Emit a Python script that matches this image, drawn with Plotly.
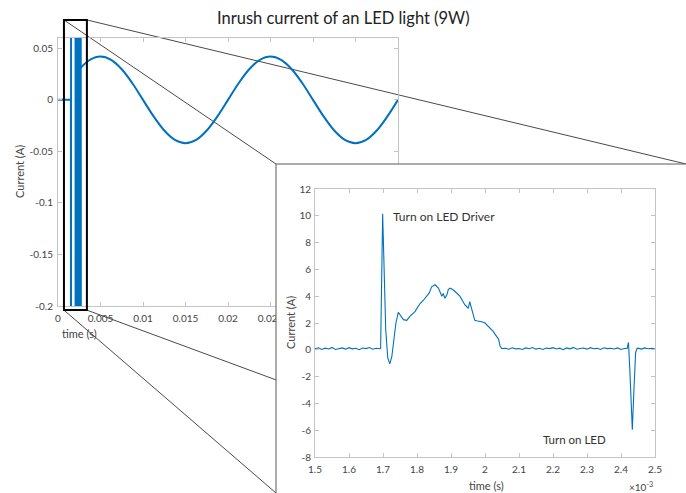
import plotly.graph_objects as go

W, H = 686, 493
FONT = "Lato"
BLUE = "#0072BD"
AXC = "#c4c4c4"
TXT = "#444444"

# ---------------- main plot data ----------------
main_xtick_vals = [0, 0.005, 0.01, 0.015, 0.02, 0.025, 0.03, 0.035, 0.04]
main_xtick_text = ["0", "0.005", "0.01", "0.015", "0.02", "0.025", "0.03", "0.035", "0.04"]
main_ytick_vals = [-0.2, -0.15, -0.1, -0.05, 0, 0.05]
main_ytick_text = ["-0.2", "-0.15", "-0.1", "-0.05", "0", "0.05"]

# switch-on transient (clipped by the axis range)
transient_t = [0, 0.00152, 0.00153, 0.00154, 0.00206, 0.00207, 0.00208,
               0.0022, 0.00225, 0.0023, 0.00235, 0.0024, 0.00245, 0.0025,
               0.00255, 0.0026, 0.00265, 0.0027]
transient_i = [0, 0, -0.5, 0.5, 0.5, -0.5, 0.5,
               -0.5, 0.5, -0.5, 0.5, -0.5, 0.5, -0.5,
               0.5, -0.5, 0.5, -0.5]

# steady-state current (read every 1.25 ms)
steady_t = [round(0.0025 + 0.00125 * k, 6) for k in range(31)]
steady_i = [0.0297, 0.0388, 0.042, 0.0388, 0.0297, 0.0161, 0, -0.0161,
            -0.0297, -0.0388, -0.042, -0.0388, -0.0297, -0.0161, 0,
            0.0161, 0.0297, 0.0388, 0.042, 0.0388, 0.0297, 0.0161, 0,
            -0.0161, -0.0297, -0.0388, -0.042, -0.0388, -0.0297, -0.0161, 0]

# zoom window (data units of main plot)
zoom_t = [0.0007, 0.0034]
zoom_i = [-0.204, 0.0775]

# ---------------- inset data (time in ms) ----------------
inset_xtick_vals = [1.5, 1.6, 1.7, 1.8, 1.9, 2.0, 2.1, 2.2, 2.3, 2.4, 2.5]
inset_xtick_text = ["1.5", "1.6", "1.7", "1.8", "1.9", "2", "2.1", "2.2", "2.3", "2.4", "2.5"]
inset_ytick_vals = [-8, -6, -4, -2, 0, 2, 4, 6, 8, 10, 12]

pre_t = [round(1.50 + 0.01 * k, 3) for k in range(20)]
pre_i = [0.08, 0.15, 0.03, 0.12, 0.06, 0.18, 0.02, 0.10, 0.14, 0.05,
         0.16, 0.07, 0.11, 0.01, 0.13, 0.09, 0.17, 0.04, 0.12, 0.08]

event_t = [1.693, 1.699, 1.708, 1.714, 1.720, 1.726, 1.732, 1.738, 1.745,
           1.752, 1.760, 1.770, 1.779, 1.794, 1.809, 1.819, 1.828, 1.836,
           1.843, 1.853, 1.863, 1.873, 1.877, 1.882, 1.888, 1.892, 1.897,
           1.905, 1.912, 1.926, 1.941, 1.951, 1.955, 1.961, 1.970, 1.978,
           1.990, 2.000, 2.010, 2.024, 2.034, 2.040, 2.044, 2.049]
event_i = [0.10, 10.15, 1.5, -0.6, -1.05, -0.5, 0.6, 2.0, 2.8,
           2.55, 2.25, 2.2, 2.5, 2.85, 3.45, 3.7, 3.95, 4.25,
           4.7, 4.85, 4.6, 4.0, 4.2, 3.85, 4.1, 4.5, 4.6,
           4.5, 4.35, 4.0, 3.35, 3.1, 3.6, 2.95, 2.2, 2.15,
           2.1, 2.0, 1.75, 1.37, 1.0, 0.8, 0.3, 0.1]

post_t = [round(2.06 + 0.01 * k, 3) for k in range(36)]
post_i = [0.12, 0.04, 0.15, 0.07, 0.10, 0.02, 0.14, 0.08, 0.17, 0.05,
          0.11, 0.03, 0.13, 0.09, 0.16, 0.06, 0.12, 0.01, 0.14, 0.07,
          0.18, 0.04, 0.10, 0.13, 0.05, 0.16, 0.08, 0.11, 0.03, 0.15,
          0.09, 0.12, 0.06, 0.14, 0.02, 0.10]

led_t = [2.418, 2.422, 2.426, 2.4333, 2.438, 2.443, 2.447]
led_i = [0.1, 0.55, -1.5, -5.97, -3.0, -0.2, 0.1]

end_t = [2.45, 2.46, 2.47, 2.48, 2.49, 2.50]
end_i = [0.12, 0.05, 0.14, 0.08, 0.11, 0.06]

inset_t = pre_t + event_t + post_t + led_t + end_t
inset_i = pre_i + event_i + post_i + led_i + end_i

# ---------------- geometry (pixels) ----------------
MAIN_X = (58, 398)    # left/right px of main axes
MAIN_Y = (38, 306)    # top/bottom px of main axes
MAIN_XR = [0, 0.04]
MAIN_YR = [-0.2, 0.06]
INS_X = (315, 655)
INS_Y = (189, 457)
FRAME_L, FRAME_T = 276, 164


def px(x):
    return x / W


def py(y):
    return 1 - y / H


def main_to_px(t, i):
    x = MAIN_X[0] + (t - MAIN_XR[0]) / (MAIN_XR[1] - MAIN_XR[0]) * (MAIN_X[1] - MAIN_X[0])
    y = MAIN_Y[1] - (i - MAIN_YR[0]) / (MAIN_YR[1] - MAIN_YR[0]) * (MAIN_Y[1] - MAIN_Y[0])
    return x, y


fig = go.Figure()

# main plot
fig.add_trace(go.Scatter(x=transient_t, y=transient_i, mode="lines",
                         line=dict(color=BLUE, width=2), xaxis="x", yaxis="y",
                         hoverinfo="skip"))
fig.add_trace(go.Scatter(x=steady_t, y=steady_i, mode="lines",
                         line=dict(color=BLUE, width=2, shape="spline"),
                         xaxis="x", yaxis="y", hoverinfo="skip"))

# white cover frame for inset (subplot 2, pixel-like units)
cov_dom_x = [px(FRAME_L - 6), 1]
cov_dom_y = [0, py(FRAME_T - 6)]
fig.add_trace(go.Scatter(x=[6, 6, 500, 500, 6], y=[-20, H - FRAME_T, H - FRAME_T, -20, -20],
                         mode="lines", fill="toself", fillcolor="white",
                         line=dict(color="#5a5a5a", width=1),
                         xaxis="x2", yaxis="y2", hoverinfo="skip"))

# inset trace
fig.add_trace(go.Scatter(x=inset_t, y=inset_i, mode="lines",
                         line=dict(color=BLUE, width=1.1),
                         xaxis="x3", yaxis="y3", hoverinfo="skip"))

axis_common = dict(showgrid=False, zeroline=False, showline=True, linecolor=AXC,
                   linewidth=1, mirror="ticks", ticks="inside", ticklen=4,
                   tickcolor=AXC, tickfont=dict(family=FONT, size=10, color=TXT))

fig.update_layout(
    width=W, height=H, margin=dict(l=0, r=0, t=0, b=0, autoexpand=False),
    paper_bgcolor="white", plot_bgcolor="rgba(0,0,0,0)", showlegend=False,
    xaxis=dict(domain=[px(MAIN_X[0]), px(MAIN_X[1])], range=MAIN_XR,
               tickvals=main_xtick_vals, ticktext=main_xtick_text,
               ticklabelstandoff=3, anchor="y", **axis_common),
    yaxis=dict(domain=[py(MAIN_Y[1]), py(MAIN_Y[0])], range=MAIN_YR,
               tickvals=main_ytick_vals, ticktext=main_ytick_text,
               ticklabelstandoff=2, anchor="x", **axis_common),
    xaxis2=dict(domain=cov_dom_x, range=[0, W - (FRAME_L - 6)], visible=False,
                anchor="y2", fixedrange=True),
    yaxis2=dict(domain=cov_dom_y, range=[0, H - (FRAME_T - 6)], visible=False,
                anchor="x2", fixedrange=True),
    xaxis3=dict(domain=[px(INS_X[0]), px(INS_X[1])], range=[1.5, 2.5],
                tickvals=inset_xtick_vals, ticktext=inset_xtick_text,
                ticklabelstandoff=3, anchor="y3", **axis_common),
    yaxis3=dict(domain=[py(INS_Y[1]), py(INS_Y[0])], range=[-8, 12],
                tickvals=inset_ytick_vals,
                ticktext=[str(v) for v in inset_ytick_vals],
                ticklabelstandoff=1, anchor="x3", **axis_common),
)

# zoom rectangle and connector lines
zx0, zy1 = main_to_px(zoom_t[0], zoom_i[1])
zx1, zy0 = main_to_px(zoom_t[1], zoom_i[0])
LINEC = "#4a4a4a"
connectors = [
    ((zx0, zy1), (FRAME_L, FRAME_T)),
    ((zx1, zy1), (W, FRAME_T)),
    ((zx0, zy0), (FRAME_L, H)),
    ((zx1, zy0), (W, zy0 + (W - zx1) * 0.369)),
]
for (a, b) in connectors:
    fig.add_shape(type="line", xref="paper", yref="paper",
                  x0=px(a[0]), y0=py(a[1]), x1=px(b[0]), y1=py(b[1]),
                  line=dict(color=LINEC, width=1), layer="below")
fig.add_shape(type="rect", xref="paper", yref="paper",
              x0=px(zx0), y0=py(zy0), x1=px(zx1), y1=py(zy1),
              line=dict(color="black", width=2), layer="above")


def note(text, x, y, size, color=TXT, angle=0, xanchor="center", xref="paper", yref="paper"):
    return dict(text=text, x=x, y=y, xref=xref, yref=yref, showarrow=False,
                textangle=angle, xanchor=xanchor, yanchor="middle",
                font=dict(family=FONT, size=size, color=color))


ann = [
    note("Inrush current of an LED light (9W)", px(343), py(18), 16.5, "#222222"),
    note("Current (A)", px(20), py(172), 11, angle=-90),
    note("time (s)", px(79), py(333), 11),
    note("Current (A)", px(290), py(323), 11, angle=-90),
    note("time (s)", px(486), py(485), 11),
    note("×10<sup>-3</sup>", px(627), py(486), 10, xanchor="left"),
    note("Turn on LED Driver", 1.724, 9.95, 12, "#333333", xanchor="left",
         xref="x3", yref="y3"),
    note("Turn on LED", 2.165, -6.7, 11.5, "#333333", xanchor="left",
         xref="x3", yref="y3"),
]
fig.update_layout(annotations=ann)

fig.write_html("out.html")
